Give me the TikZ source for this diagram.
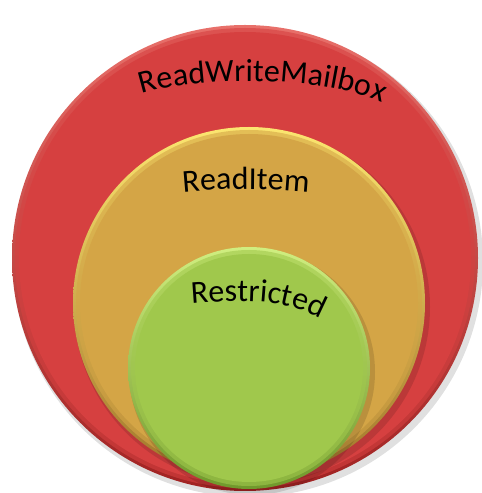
\documentclass[tikz,border=0pt]{standalone}
\usepackage{fontspec}
\setmainfont{Carlito}
\usetikzlibrary{decorations.text}

\definecolor{mbred}{RGB}{214,64,64}
\definecolor{mbredhi}{RGB}{232,112,106}
\definecolor{mbredlo}{RGB}{160,34,34}
\definecolor{itorange}{RGB}{212,165,70}
\definecolor{itorangehi}{RGB}{252,230,112}
\definecolor{itorangelo}{RGB}{160,116,42}
\definecolor{rsgreen}{RGB}{160,200,76}
\definecolor{rsgreenhi}{RGB}{208,238,128}
\definecolor{rsgreenlo}{RGB}{112,152,44}

\tikzset{
  ringlabel/.style={decorate,decoration={text along path,text align=center,
    text={|\fontsize{32}{32}\selectfont|#1}}},
}

% centre, radius, fill, light rim, dark rim
\newcommand\bevelring[5]{%
  \fill[black,opacity=.12,shift={(3,-4)}] (#1) circle[radius=#2+2];
  \shade[top color=#4,bottom color=#5] (#1) circle[radius=#2];
  \fill[#3,opacity=.6] (#1) circle[radius=#2-3];
  \fill[#3] (#1) circle[radius=#2-7];
}

\begin{document}
\begin{tikzpicture}[x=1pt,y=1pt]
\useasboundingbox (0,0) rectangle (482,493);
% permission rings
\bevelring{245,235}{233}{mbred}{mbredhi}{mbredlo}
\bevelring{249,190}{176}{itorange}{itorangehi}{itorangelo}
\bevelring{249,125}{121}{rsgreen}{rsgreenhi}{rsgreenlo}
% labels
\path[ringlabel=ReadWriteMailbox] (131,395) .. controls (185,419) and (335,419) .. (392,385);
\path[ringlabel=ReadItem] (176,300) .. controls (220,305) and (270,305) .. (316,300);
\path[ringlabel=Restricted] (176,188) .. controls (250,194) and (292,196) .. (334,166);
\end{tikzpicture}
\end{document}
